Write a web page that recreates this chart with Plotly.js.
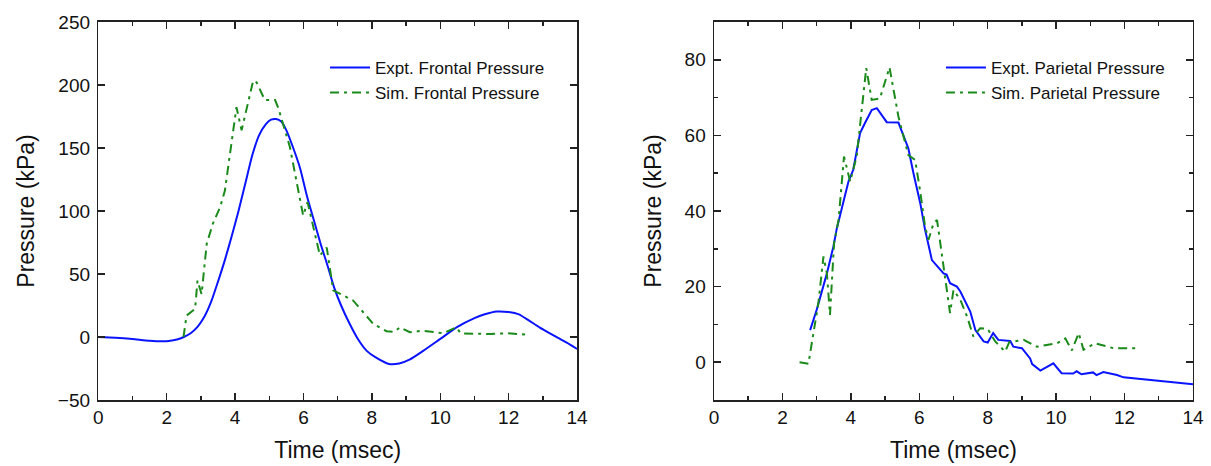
<!DOCTYPE html>
<html>
<head>
<meta charset="utf-8">
<script src="https://cdn.plot.ly/plotly-3.0.1.min.js"></script>
<style>
html,body{margin:0;padding:0;background:#fff;}
#chart{width:1211px;height:466px;}
</style>
</head>
<body>
<div id="chart"></div>
<script>
// ---- Left panel: frontal pressure ----
const frontalExptTime = [0,0.5,1.0,1.5,2.0,2.3,2.5,2.7,2.9,3.1,3.3,3.5,3.7,3.9,4.1,4.3,4.5,4.7,4.9,5.05,5.2,5.35,5.5,5.7,5.9,6.1,6.3,6.5,6.7,6.9,7.1,7.35,7.6,7.85,8.1,8.5,8.8,9.1,9.5,10.0,10.5,11.0,11.3,11.65,12.0,12.3,12.6,12.9,13.3,13.7,14.0];
const frontalExptPressure = [0,-0.5,-1.5,-3,-3.3,-2,0,3,8,16,28,44,61,80,100,122,144,160,169,172.5,173,171,164,150,134,112,93,74,57,39,25,10.5,-2,-11,-16,-21.4,-21,-18,-11,-1.5,8,15,18,20.2,19.8,18,13,7.7,1.5,-4.5,-9.5];

const frontalSimTime = [2.49,2.58,2.83,2.9,3.02,3.17,3.35,3.56,3.70,3.9,4.04,4.19,4.29,4.53,4.63,4.87,5.17,5.26,5.6,5.9,5.99,6.12,6.48,6.68,6.87,7.45,8.04,8.43,8.65,8.82,9.11,9.5,10.08,10.47,10.6,11.45,11.94,12.5];
const frontalSimPressure = [0,17,22.3,44.8,34,74,90,103,116,153,182.4,164,176,203.6,202,188,188,182,151,111,96.4,107,64.7,71,37,29,10.4,4.6,4,7.7,3.8,5,3,7.7,2.8,2.4,3,1.9];

// ---- Right panel: parietal pressure ----
const parietalExptTime = [2.81,3.0,3.3,3.49,3.59,3.78,3.93,4.07,4.27,4.41,4.61,4.76,4.9,5.05,5.39,5.68,5.83,6.03,6.17,6.37,6.71,6.8,6.9,7.1,7.2,7.49,7.64,7.88,8.0,8.16,8.31,8.66,8.75,9.0,9.24,9.3,9.54,9.73,9.92,10.16,10.5,10.6,10.74,11.08,11.18,11.38,11.78,11.97,13.14,14.0];
const parietalExptPressure = [8.5,13.8,23.5,30.6,35.4,42,47.8,50.9,60.6,63.2,66.7,67.2,65.4,63.5,63.4,56.6,50,42,35,27,23.5,23.2,20.9,20,18.7,13.4,8.5,5.5,5.2,7.7,5.9,5.6,4.1,3.7,1,-0.5,-2.2,-1.2,-0.3,-2.9,-3,-2.4,-3.2,-2.7,-3.4,-2.6,-3.4,-4,-5.1,-5.8];

const parietalSimTime = [2.5,2.76,3.05,3.2,3.3,3.39,3.51,3.64,3.8,3.98,4.17,4.37,4.45,4.61,4.85,5.13,5.39,5.68,5.88,6.03,6.17,6.27,6.42,6.52,6.9,7.0,7.2,7.4,7.58,7.78,8.0,8.22,8.51,8.63,9.05,9.44,10.02,10.27,10.46,10.66,10.8,11.14,11.68,12.36];
const parietalSimPressure = [0,-0.4,15.6,28,23.5,12.5,31.5,37.6,54.4,47.8,54.4,70.3,77.8,69.4,69.8,78,65,54.8,53.5,45,35.9,32.4,36.8,37.6,13,19.1,16.5,12,6.8,9,8.8,5.5,2.8,5.3,5.9,4.1,5,6.3,3.1,7.7,3.3,5,3.7,3.7];

const FONT = 'Arial, "Liberation Sans", sans-serif';
const BLUE = '#0a14ff';
const GREEN = '#1a8a1a';
const DASHDOT = '9px,5px,3px,5px';

const traces = [
  {x: frontalExptTime, y: frontalExptPressure, type: 'scatter', mode: 'lines',
   name: 'Expt. Frontal Pressure', line: {color: BLUE, width: 2, shape: 'spline', smoothing: 0.6}, xaxis: 'x', yaxis: 'y', legend: 'legend'},
  {x: frontalSimTime, y: frontalSimPressure, type: 'scatter', mode: 'lines',
   name: 'Sim. Frontal Pressure', line: {color: GREEN, width: 2, dash: DASHDOT}, xaxis: 'x', yaxis: 'y', legend: 'legend'},
  {x: parietalExptTime, y: parietalExptPressure, type: 'scatter', mode: 'lines',
   name: 'Expt. Parietal Pressure', line: {color: BLUE, width: 2}, xaxis: 'x2', yaxis: 'y2', legend: 'legend2'},
  {x: parietalSimTime, y: parietalSimPressure, type: 'scatter', mode: 'lines',
   name: 'Sim. Parietal Pressure', line: {color: GREEN, width: 2, dash: DASHDOT}, xaxis: 'x2', yaxis: 'y2', legend: 'legend2'}
];

function axisBase(extra) {
  return Object.assign({
    showline: true, mirror: 'ticks', linecolor: '#222', linewidth: 1.5,
    ticks: 'inside', ticklen: 7, tickwidth: 1.5, tickcolor: '#222',
    showgrid: false, zeroline: false,
    tickfont: {family: FONT, size: 19, color: '#111'}
  }, extra);
}

const layout = {
  width: 1211, height: 466,
  margin: {l: 0, r: 0, t: 0, b: 0},
  paper_bgcolor: '#ffffff', plot_bgcolor: '#ffffff',
  font: {family: FONT, color: '#111'},
  xaxis: axisBase({domain: [0.0812, 0.4765], range: [0, 14], dtick: 2, anchor: 'y', ticklabelstandoff: 0,
    minor: {dtick: 1, ticks: 'inside', ticklen: 4, tickwidth: 1.5, tickcolor: '#222', showgrid: false},
    title: {text: 'Time (msec)', font: {family: FONT, size: 23, color: '#111'}, standoff: 14}}),
  yaxis: axisBase({domain: [0.1416, 0.9528], range: [-50, 250], dtick: 50, anchor: 'x', ticklabelstandoff: 3,
    title: {text: 'Pressure (kPa)', font: {family: FONT, size: 23, color: '#111'}, standoff: 16}}),
  xaxis2: axisBase({domain: [0.5896, 0.9851], range: [0, 14], dtick: 2, anchor: 'y2', ticklabelstandoff: 0,
    minor: {dtick: 1, ticks: 'inside', ticklen: 4, tickwidth: 1.5, tickcolor: '#222', showgrid: false},
    title: {text: 'Time (msec)', font: {family: FONT, size: 23, color: '#111'}, standoff: 14}}),
  yaxis2: axisBase({domain: [0.1416, 0.9528], range: [-10, 90], dtick: 20, anchor: 'x2', ticklabelstandoff: 3,
    minor: {dtick: 10, ticks: 'inside', ticklen: 4, tickwidth: 1.5, tickcolor: '#222', showgrid: false},
    title: {text: 'Pressure (kPa)', font: {family: FONT, size: 23, color: '#111'}, standoff: 16}}),
  legend: {x: 0.2684, y: 0.893, xanchor: 'left', yanchor: 'top', bgcolor: 'rgba(0,0,0,0)',
    font: {family: FONT, size: 17, color: '#111'}, itemwidth: 40, tracegroupgap: 0},
  legend2: {x: 0.777, y: 0.893, xanchor: 'left', yanchor: 'top', bgcolor: 'rgba(0,0,0,0)',
    font: {family: FONT, size: 17, color: '#111'}, itemwidth: 40, tracegroupgap: 0},
  showlegend: true
};

Plotly.newPlot('chart', traces, layout, {displayModeBar: false, staticPlot: true});
</script>
</body>
</html>
